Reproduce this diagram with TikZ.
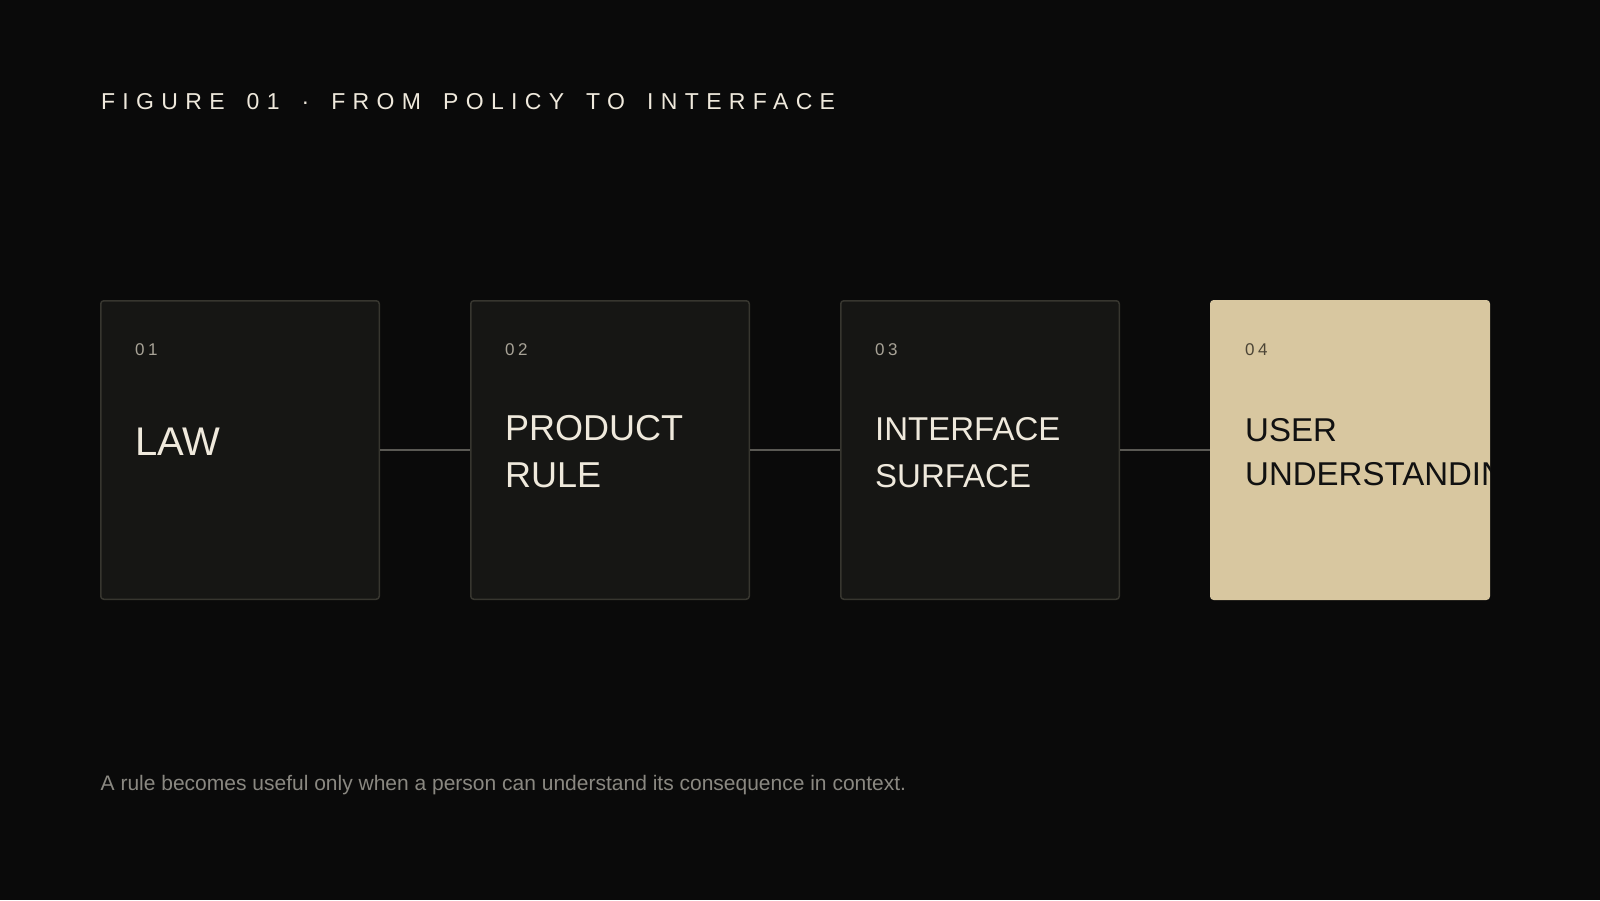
\documentclass[tikz,border=0pt]{standalone}
\usepackage{fontspec}
\setmainfont{Liberation Sans}
\newfontfamily\titlefont[LetterSpace=32,WordSpace=1.6]{Liberation Sans}
\usetikzlibrary{positioning}
\definecolor{bgdark}{HTML}{0A0A0A}
\definecolor{cardfill}{HTML}{161614}
\definecolor{cardline}{HTML}{37362F}
\definecolor{linkgray}{HTML}{5A5954}
\definecolor{cream}{HTML}{EFE9DC}
\definecolor{numgray}{HTML}{A8A397}
\definecolor{sand}{HTML}{D8C7A0}
\definecolor{sandnum}{HTML}{4C4536}
\definecolor{ink}{HTML}{111111}
\definecolor{captiongray}{HTML}{8A8881}
\newcommand{\twolines}[3]{\vtop{\baselineskip=#1\hbox{#2}\hbox{#3}}}
\tikzset{card/.style={draw=cardline, fill=cardfill, line width=1.5pt, rounded corners=3pt, minimum width=278.5pt, minimum height=298.5pt, inner sep=0pt},
	link/.style={linkgray, line width=2pt},
	cardnum/.style={anchor=base west, inner sep=0pt, numgray, font={\fontsize{17}{20}\selectfont\addfontfeature{LetterSpace=20}}},
	cardhead/.style={anchor=base west, inner sep=0pt, cream}}

\begin{document}
\begin{tikzpicture}[x=1pt,y=-1pt]
	\fill [bgdark] (0,0) rectangle (1600,900);
	\useasboundingbox (0,0) rectangle (1600,900);

	\node [anchor=base west, inner sep=0pt, cream, font={\titlefont\fontsize{23}{28}\selectfont}] (title) at (100.8,109.5) {FIGURE 01 · FROM POLICY TO INTERFACE};

	% the four steps
	\node [card, anchor=north west] (law) at (100,300) {};
	\node [card, right=90pt of law] (rule) {};
	\node [card, right=90pt of rule] (surface) {};
	\node [card, draw=sand, fill=sand, right=90pt of surface] (user) {};

	\draw [link] (law.east) -- (rule.west);
	\draw [link] (rule.east) -- (surface.west);
	\draw [link] (surface.east) -- (user.west);

	\node [cardnum] (lawnum) at ([xshift=35pt,yshift=-55.5pt]law.north west) {01};
	\node [cardnum] (rulenum) at ([xshift=35pt,yshift=-55.5pt]rule.north west) {02};
	\node [cardnum] (surfacenum) at ([xshift=35pt,yshift=-55.5pt]surface.north west) {03};
	\node [cardnum, sandnum] (usernum) at ([xshift=35pt,yshift=-55.5pt]user.north west) {04};

	\node [cardhead, font=\fontsize{40}{48}\selectfont] (lawtext) at ([xshift=35pt,yshift=-155pt]law.north west) {LAW};
	\node [cardhead, font=\fontsize{36}{47}\selectfont] (ruletext) at ([xshift=35pt,yshift=-140pt]rule.north west) {\twolines{47pt}{PRODUCT}{RULE}};
	\node [cardhead, font=\fontsize{33}{47}\selectfont] (surfacetext) at ([xshift=35pt,yshift=-140pt]surface.north west) {\twolines{47pt}{INTERFACE}{SURFACE}};
	\begin{scope}
		\clip [rounded corners=3pt] (user.north west) rectangle (user.south east);
		\node [cardhead, ink, font=\fontsize{33}{44}\selectfont] (usertext) at ([xshift=35pt,yshift=-141pt]user.north west) {\twolines{44pt}{USER}{UNDERSTANDING}};
	\end{scope}

	\node [anchor=base west, inner sep=0pt, captiongray, font=\fontsize{21}{26}\selectfont] (caption) at (100.5,790) {A rule becomes useful only when a person can understand its consequence in context.};
\end{tikzpicture}
\end{document}
